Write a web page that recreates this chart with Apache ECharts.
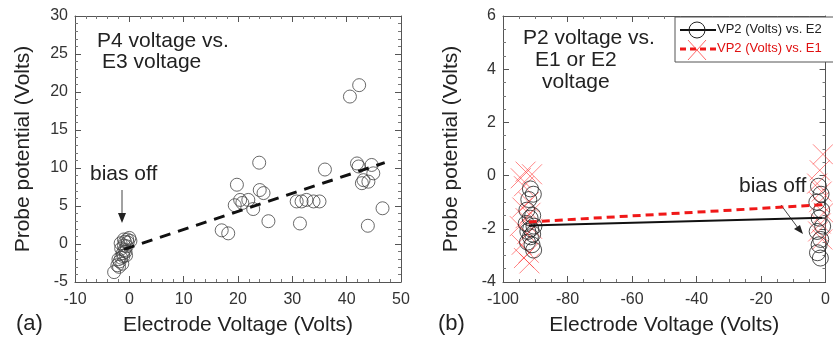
<!DOCTYPE html>
<html>
<head>
<meta charset="utf-8">
<script src="https://cdn.jsdelivr.net/npm/echarts@6/dist/echarts.min.js"></script>
<style>
  html, body { margin: 0; padding: 0; background: #fff; }
  #chart { width: 833px; height: 346px; }
</style>
</head>
<body>
<div id="chart"></div>
<script>
// (a) P4 voltage vs E3 voltage
const p4Points = [
  [40.6, 19.4], [42.3, 20.9], [23.9, 10.7], [36.0, 9.8], [19.8, 7.8],
  [24.0, 7.1], [24.7, 6.7], [20.4, 5.8], [19.4, 5.1], [21.9, 5.8],
  [22.8, 4.6], [20.8, 5.4], [25.6, 3.0], [17.0, 1.8], [18.2, 1.4],
  [30.8, 5.6], [31.7, 5.6], [32.6, 5.8], [33.9, 5.6], [35.0, 5.6],
  [31.4, 2.7], [41.9, 10.6], [42.2, 10.2], [44.6, 10.4], [44.9, 9.3],
  [43.1, 8.4], [42.8, 8.0], [44.0, 8.2], [43.9, 2.4], [46.6, 4.7],
  // bias off cluster
  [-2.8, -3.7], [-2.2, -2.8], [-1.8, -2.3], [-1.5, -1.8], [-1.2, -1.2],
  [-1.5, -0.6], [-1.0, -0.2], [-0.8, 0.3], [-0.4, 0.6], [0.0, 0.8],
  [-0.3, 0.2], [-0.9, -0.8], [-1.3, -2.6], [-0.6, -1.5], [-1.0, 0.6],
  [0.2, 0.4], [-0.5, -0.3], [-2.0, -2.0], [-1.6, 0.1], [-1.1, -1.6],
  [-0.7, -1.0], [-1.9, -3.0]
]
const p4Fit = [[-1, -0.7], [47, 10.7]]

// (b) P2 voltage vs E1 / E2 voltage
const vp2E2 = [
  [-91.5, -0.5], [-90.6, -0.7], [-92.0, -0.9], [-92.6, -1.3], [-90.8, -1.5],
  [-91.6, -1.6], [-92.8, -1.8], [-90.4, -1.9], [-91.4, -2.0], [-92.3, -2.1],
  [-90.8, -2.2], [-91.5, -2.3], [-92.4, -2.5], [-91.0, -2.6], [-90.5, -2.8],
  [-2.2, -0.4], [-1.4, -0.7], [-2.7, -1.0], [-1.2, -1.3], [-2.0, -1.6],
  [-0.9, -1.9], [-2.6, -2.1], [-1.5, -2.4], [-2.0, -2.6], [-2.5, -2.9],
  [-1.6, -3.1]
]
const vp2E1 = [
  [-93.0, 0.15], [-91.0, 0.05], [-94.5, -0.1], [-93.5, -0.4], [-92.0, -1.0],
  [-94.0, -1.2], [-91.5, -1.4], [-93.0, -1.6], [-94.8, -1.9], [-91.0, -2.0],
  [-92.5, -2.2], [-94.2, -2.6], [-92.0, -2.9], [-93.5, -3.1], [-91.8, -3.3],
  [-0.8, 0.8], [-1.8, 0.2], [-2.6, -0.3], [-1.2, -0.6], [-2.0, -1.0],
  [-0.6, -1.4], [-1.5, -1.8], [-2.3, -2.1], [-1.0, -2.4]
]
const vp2E2Fit = [[-92, -1.88], [-1, -1.58]]
const vp2E1Fit = [[-92, -1.74], [-1, -1.1]]

const chart = echarts.init(document.getElementById('chart'))

const FONT = 'Liberation Sans, Arial, sans-serif'
const lineCol = '#555'

// one axis of the frame box
function axis(gi, pos, min, max, interval, minorSplit, name, nameGap, withLabel) {
  return {
    type: 'value', gridIndex: gi, position: pos, min, max, interval,
    name: name || '', nameLocation: 'middle', nameGap,
    nameTextStyle: { fontFamily: FONT, fontSize: 21, color: '#222' },
    axisLine: { show: true, onZero: false, lineStyle: { color: lineCol, width: 1 } },
    axisTick: { show: true, inside: true, length: 6, lineStyle: { color: lineCol } },
    minorTick: { show: true, splitNumber: minorSplit, length: 3, lineStyle: { color: '#777' } },
    splitLine: { show: false },
    axisLabel: {
      show: withLabel, fontFamily: FONT, fontSize: 16, color: '#333',
      margin: (pos === 'bottom') ? 10 : 7
    }
  }
}

const circleStyle = { color: 'transparent', borderColor: '#444', borderWidth: 1 }
const crossPath = 'path://M0 0L10 10M10 0L0 10'

const option = {
  animation: false,
  backgroundColor: '#fff',
  grid: [
    { left: 75, right: 432, top: 16, bottom: 64 },
    { left: 503, right: 3, top: 16, bottom: 64 }
  ],
  xAxis: [
    axis(0, 'bottom', -10, 50, 10, 5, 'Electrode Voltage (Volts)', 33, true),
    axis(0, 'top', -10, 50, 10, 5, '', 0, false),
    axis(1, 'bottom', -100, 0, 20, 4, 'Electrode Voltage (Volts)', 33, true),
    axis(1, 'top', -100, 0, 20, 4, '', 0, false)
  ],
  yAxis: [
    axis(0, 'left', -5, 30, 5, 5, 'Probe potential (Volts)', 41, true),
    axis(0, 'right', -5, 30, 5, 5, '', 0, false),
    axis(1, 'left', -4, 6, 2, 4, 'Probe potential (Volts)', 41, true),
    axis(1, 'right', -4, 6, 2, 4, '', 0, false)
  ],
  series: [
    {
      type: 'scatter', xAxisIndex: 0, yAxisIndex: 0, data: p4Points,
      symbol: 'circle', symbolSize: 13, itemStyle: circleStyle, silent: true
    },
    {
      type: 'line', xAxisIndex: 0, yAxisIndex: 0, data: p4Fit, symbol: 'none',
      lineStyle: { color: '#111', width: 3, type: [11, 8] }, silent: true
    },
    {
      name: 'VP2 (Volts) vs. E1', type: 'scatter', xAxisIndex: 2, yAxisIndex: 2, data: vp2E1,
      symbol: crossPath, symbolSize: 20,
      itemStyle: { color: 'transparent', borderColor: 'rgba(255,40,40,0.7)', borderWidth: 1 },
      silent: true
    },
    {
      name: 'VP2 (Volts) vs. E2', type: 'scatter', xAxisIndex: 2, yAxisIndex: 2, data: vp2E2,
      symbol: 'circle', symbolSize: 16,
      itemStyle: { color: 'transparent', borderColor: '#222', borderWidth: 1 }, silent: true
    },
    {
      type: 'line', xAxisIndex: 2, yAxisIndex: 2, data: vp2E2Fit, symbol: 'none',
      lineStyle: { color: '#111', width: 2 }, silent: true
    },
    {
      type: 'line', xAxisIndex: 2, yAxisIndex: 2, data: vp2E1Fit, symbol: 'none',
      lineStyle: { color: '#f01818', width: 3, type: [8, 5] }, silent: true
    }
  ],
  graphic: [
    // panel (a) notes
    { type: 'text', left: 97, top: 31, style: { text: 'P4 voltage vs.', font: '21px ' + FONT, fill: '#222' } },
    { type: 'text', left: 102, top: 52, style: { text: 'E3 voltage', font: '21px ' + FONT, fill: '#222' } },
    { type: 'text', left: 90, top: 164, style: { text: 'bias off', font: '21px ' + FONT, fill: '#222' } },
    { type: 'line', shape: { x1: 122, y1: 190, x2: 122, y2: 215 }, style: { stroke: '#444', lineWidth: 1 } },
    { type: 'polygon', shape: { points: [[118, 213], [126, 213], [122, 223]] }, style: { fill: '#222' } },
    { type: 'text', left: 16, top: 313, style: { text: '(a)', font: '22px ' + FONT, fill: '#222' } },
    // panel (b) notes
    { type: 'text', left: 523, top: 28, style: { text: 'P2 voltage vs.', font: '21px ' + FONT, fill: '#222' } },
    { type: 'text', left: 535, top: 50, style: { text: 'E1 or E2', font: '21px ' + FONT, fill: '#222' } },
    { type: 'text', left: 542, top: 72, style: { text: 'voltage', font: '21px ' + FONT, fill: '#222' } },
    { type: 'text', left: 739, top: 176, style: { text: 'bias off', font: '21px ' + FONT, fill: '#222' } },
    { type: 'line', shape: { x1: 781, y1: 205, x2: 798, y2: 228 }, style: { stroke: '#444', lineWidth: 1 } },
    { type: 'polygon', shape: { points: [[794, 229], [800, 225], [803, 234]] }, style: { fill: '#222' } },
    { type: 'text', left: 438, top: 313, style: { text: '(b)', font: '22px ' + FONT, fill: '#222' } },
    // legend box
    { type: 'rect', z: 10, shape: { x: 675, y: 17, width: 170, height: 45 }, style: { fill: '#fff', stroke: lineCol, lineWidth: 1 } },
    { type: 'line', z: 11, shape: { x1: 680, y1: 30, x2: 716, y2: 30 }, style: { stroke: '#111', lineWidth: 2 } },
    { type: 'circle', z: 11, shape: { cx: 697, cy: 30, r: 8 }, style: { fill: 'none', stroke: '#222', lineWidth: 1 } },
    { type: 'text', z: 11, left: 717, top: 23, style: { text: 'VP2 (Volts) vs. E2', font: '13px ' + FONT, fill: '#222' } },
    { type: 'line', z: 11, shape: { x1: 680, y1: 49, x2: 717, y2: 49 }, style: { stroke: '#f01818', lineWidth: 3, lineDash: [6, 4] } },
    { type: 'line', z: 11, shape: { x1: 688, y1: 40, x2: 706, y2: 60 }, style: { stroke: 'rgba(255,40,40,0.7)', lineWidth: 1 } },
    { type: 'line', z: 11, shape: { x1: 706, y1: 40, x2: 688, y2: 60 }, style: { stroke: 'rgba(255,40,40,0.7)', lineWidth: 1 } },
    { type: 'text', z: 11, left: 717, top: 42, style: { text: 'VP2 (Volts) vs. E1', font: '13px ' + FONT, fill: '#e01010' } }
  ]
}

chart.setOption(option)
window.addEventListener('resize', () => chart.resize())
</script>
</body>
</html>
